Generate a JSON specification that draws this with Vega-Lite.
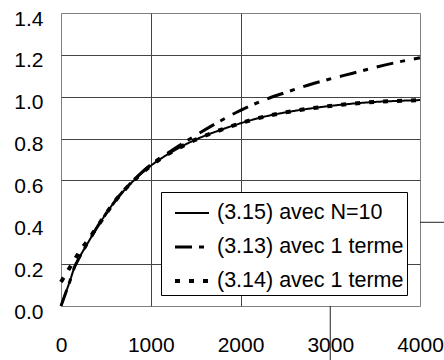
{
  "$schema": "https://vega.github.io/schema/vega-lite/v6.json",
  "width": 359,
  "height": 293,
  "autosize": "none",
  "padding": {"left": 61, "top": 13, "right": 24, "bottom": 54},
  "background": "white",
  "config": {
    "view": {"stroke": "#808080", "strokeWidth": 1},
    "font": "Liberation Sans"
  },
  "datasets": {
    "curves": [
      {"t": 0, "v": 0, "series": "(3.15) avec N=10"},
      {"t": 50, "v": 0.06, "series": "(3.15) avec N=10"},
      {"t": 100, "v": 0.12, "series": "(3.15) avec N=10"},
      {"t": 150, "v": 0.185, "series": "(3.15) avec N=10"},
      {"t": 200, "v": 0.228, "series": "(3.15) avec N=10"},
      {"t": 300, "v": 0.302, "series": "(3.15) avec N=10"},
      {"t": 400, "v": 0.375, "series": "(3.15) avec N=10"},
      {"t": 500, "v": 0.44, "series": "(3.15) avec N=10"},
      {"t": 600, "v": 0.5, "series": "(3.15) avec N=10"},
      {"t": 800, "v": 0.595, "series": "(3.15) avec N=10"},
      {"t": 1000, "v": 0.67, "series": "(3.15) avec N=10"},
      {"t": 1250, "v": 0.74, "series": "(3.15) avec N=10"},
      {"t": 1500, "v": 0.795, "series": "(3.15) avec N=10"},
      {"t": 1750, "v": 0.837, "series": "(3.15) avec N=10"},
      {"t": 2000, "v": 0.873, "series": "(3.15) avec N=10"},
      {"t": 2250, "v": 0.903, "series": "(3.15) avec N=10"},
      {"t": 2500, "v": 0.925, "series": "(3.15) avec N=10"},
      {"t": 2750, "v": 0.942, "series": "(3.15) avec N=10"},
      {"t": 3000, "v": 0.956, "series": "(3.15) avec N=10"},
      {"t": 3250, "v": 0.967, "series": "(3.15) avec N=10"},
      {"t": 3500, "v": 0.975, "series": "(3.15) avec N=10"},
      {"t": 3750, "v": 0.98, "series": "(3.15) avec N=10"},
      {"t": 4000, "v": 0.984, "series": "(3.15) avec N=10"},

      {"t": 0, "v": 0, "series": "(3.13) avec 1 terme"},
      {"t": 50, "v": 0.06, "series": "(3.13) avec 1 terme"},
      {"t": 100, "v": 0.12, "series": "(3.13) avec 1 terme"},
      {"t": 150, "v": 0.185, "series": "(3.13) avec 1 terme"},
      {"t": 200, "v": 0.228, "series": "(3.13) avec 1 terme"},
      {"t": 300, "v": 0.302, "series": "(3.13) avec 1 terme"},
      {"t": 400, "v": 0.375, "series": "(3.13) avec 1 terme"},
      {"t": 500, "v": 0.44, "series": "(3.13) avec 1 terme"},
      {"t": 600, "v": 0.5, "series": "(3.13) avec 1 terme"},
      {"t": 800, "v": 0.597, "series": "(3.13) avec 1 terme"},
      {"t": 1000, "v": 0.675, "series": "(3.13) avec 1 terme"},
      {"t": 1250, "v": 0.748, "series": "(3.13) avec 1 terme"},
      {"t": 1500, "v": 0.815, "series": "(3.13) avec 1 terme"},
      {"t": 1750, "v": 0.878, "series": "(3.13) avec 1 terme"},
      {"t": 2000, "v": 0.935, "series": "(3.13) avec 1 terme"},
      {"t": 2250, "v": 0.982, "series": "(3.13) avec 1 terme"},
      {"t": 2500, "v": 1.02, "series": "(3.13) avec 1 terme"},
      {"t": 2750, "v": 1.055, "series": "(3.13) avec 1 terme"},
      {"t": 3000, "v": 1.085, "series": "(3.13) avec 1 terme"},
      {"t": 3250, "v": 1.112, "series": "(3.13) avec 1 terme"},
      {"t": 3500, "v": 1.14, "series": "(3.13) avec 1 terme"},
      {"t": 3750, "v": 1.165, "series": "(3.13) avec 1 terme"},
      {"t": 4000, "v": 1.186, "series": "(3.13) avec 1 terme"},

      {"t": 0, "v": 0.115, "series": "(3.14) avec 1 terme"},
      {"t": 50, "v": 0.15, "series": "(3.14) avec 1 terme"},
      {"t": 100, "v": 0.185, "series": "(3.14) avec 1 terme"},
      {"t": 200, "v": 0.255, "series": "(3.14) avec 1 terme"},
      {"t": 300, "v": 0.315, "series": "(3.14) avec 1 terme"},
      {"t": 400, "v": 0.376, "series": "(3.14) avec 1 terme"},
      {"t": 500, "v": 0.44, "series": "(3.14) avec 1 terme"},
      {"t": 600, "v": 0.5, "series": "(3.14) avec 1 terme"},
      {"t": 800, "v": 0.595, "series": "(3.14) avec 1 terme"},
      {"t": 1000, "v": 0.67, "series": "(3.14) avec 1 terme"},
      {"t": 1250, "v": 0.74, "series": "(3.14) avec 1 terme"},
      {"t": 1500, "v": 0.795, "series": "(3.14) avec 1 terme"},
      {"t": 1750, "v": 0.837, "series": "(3.14) avec 1 terme"},
      {"t": 2000, "v": 0.873, "series": "(3.14) avec 1 terme"},
      {"t": 2250, "v": 0.903, "series": "(3.14) avec 1 terme"},
      {"t": 2500, "v": 0.925, "series": "(3.14) avec 1 terme"},
      {"t": 2750, "v": 0.942, "series": "(3.14) avec 1 terme"},
      {"t": 3000, "v": 0.956, "series": "(3.14) avec 1 terme"},
      {"t": 3250, "v": 0.967, "series": "(3.14) avec 1 terme"},
      {"t": 3500, "v": 0.975, "series": "(3.14) avec 1 terme"},
      {"t": 3750, "v": 0.98, "series": "(3.14) avec 1 terme"},
      {"t": 4000, "v": 0.984, "series": "(3.14) avec 1 terme"}
    ],
    "stray": [
      {"t": 3000, "t2": 3000, "v": 0, "v2": -0.3},
      {"t": 4000, "t2": 4300, "v": 0.4, "v2": 0.4}
    ]
  },
  "encoding": {
    "x": {
      "field": "t", "type": "quantitative",
      "scale": {"domain": [0, 4000], "nice": false, "zero": false},
      "axis": {
        "title": null, "values": [0, 1000, 2000, 3000, 4000], "format": "d",
        "domain": false, "ticks": false, "labelFontSize": 21, "labelColor": "black",
        "labelPadding": 28, "labelFlush": false,
        "grid": true,
        "gridColor": {"condition": {"test": "datum.value === 3000 || datum.value === 0 || datum.value === 4000", "value": "transparent"}, "value": "#444"},
        "gridOpacity": 1
      }
    },
    "y": {
      "field": "v", "type": "quantitative",
      "scale": {"domain": [0, 1.4], "nice": false, "zero": false},
      "axis": {
        "title": null, "values": [0, 0.2, 0.4, 0.6, 0.8, 1.0, 1.2, 1.4],
        "format": ".1f",
        "domain": false, "ticks": false, "labelFontSize": 21, "labelColor": "black",
        "labelPadding": 18, "labelOffset": 6, "labelFlush": false,
        "grid": true,
        "gridColor": {"condition": {"test": "datum.value === 0.4 || datum.value === 0 || datum.value === 1.4", "value": "transparent"}, "value": "#444"},
        "gridOpacity": 1
      }
    }
  },
  "layer": [
    {
      "data": {"name": "curves"},
      "mark": {"type": "line", "color": "black", "interpolate": "monotone", "strokeCap": "butt"},
      "encoding": {
        "strokeDash": {
          "field": "series", "type": "nominal",
          "scale": {
            "domain": ["(3.15) avec N=10", "(3.13) avec 1 terme", "(3.14) avec 1 terme"],
            "range": [[1, 0], [17, 7, 5, 9], [5, 9]]
          },
          "legend": {
            "title": null, "orient": "none", "legendX": 100, "legendY": 179,
            "direction": "vertical",
            "fillColor": "white", "strokeColor": "black",
            "padding": 3, "rowPadding": 4.5,
            "symbolType": "stroke", "symbolSize": 1156, "symbolOffset": 9,
            "symbolStrokeColor": "black",
            "labelFontSize": 21.5, "labelOffset": 6, "labelColor": "black", "labelLimit": 400
          }
        },
        "strokeWidth": {
          "field": "series", "type": "nominal",
          "scale": {
            "domain": ["(3.15) avec N=10", "(3.13) avec 1 terme", "(3.14) avec 1 terme"],
            "range": [2, 4, 4]
          }
        }
      }
    },
    {
      "data": {"name": "stray"},
      "mark": {"type": "rule", "color": "#222", "strokeWidth": 1, "clip": false},
      "encoding": {
        "x2": {"field": "t2"},
        "y2": {"field": "v2"}
      }
    }
  ]
}
